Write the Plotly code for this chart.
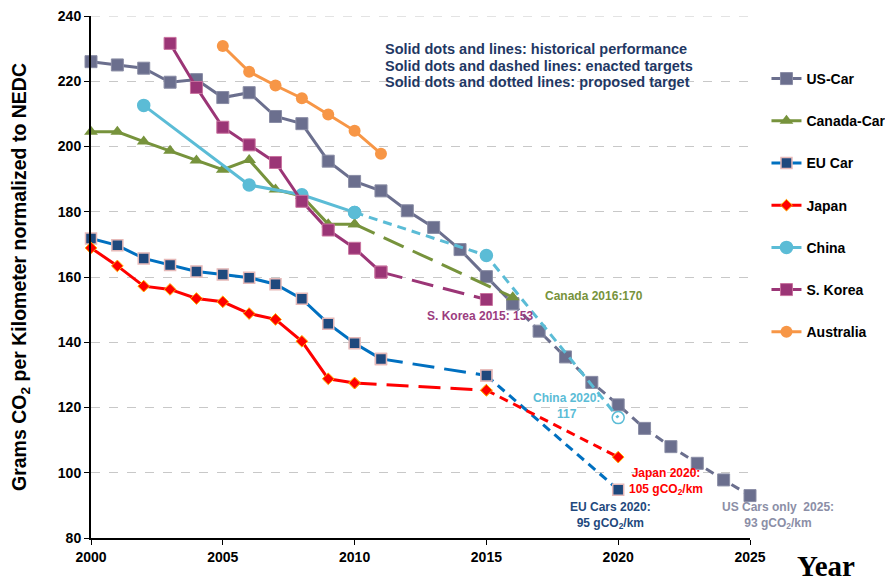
import plotly.graph_objects as go

# ---------- data ----------
us_years = list(range(2000, 2026))
us_co2 = [226, 225, 224, 219.7, 220.5, 215, 216.5, 209.2, 207, 195.5, 189.3, 186.4, 180.3,
          175.2, 168.4, 160.1, 151.8, 143.4, 135.5, 127.7, 120.8, 113.6, 108, 102.9, 97.8, 93]

canada_years = list(range(2000, 2011)) + [2016]
canada_co2 = [204.5, 204.5, 201.5, 198.7, 195.7, 192.9, 195.9, 186.8, 184.8, 176.2, 176.2, 153.8]

eu_years = list(range(2000, 2012)) + [2015, 2020]
eu_co2 = [171.8, 169.7, 165.7, 163.7, 161.7, 160.8, 159.8, 157.8, 153.3, 145.7, 139.7, 134.9, 129.8, 94.8]

japan_years = list(range(2000, 2011)) + [2015, 2020]
japan_co2 = [168.9, 163.4, 157.2, 156.2, 153.4, 152.4, 148.8, 147, 140.3, 128.8, 127.5, 125.3, 104.8]

china_years = [2002, 2006, 2008, 2010, 2015, 2020]
china_co2 = [212.6, 188.2, 185.2, 179.8, 166.6, 116.9]

korea_years = list(range(2003, 2012)) + [2015]
korea_co2 = [231.6, 218.1, 205.9, 200.5, 195.1, 183.2, 174.4, 168.8, 161.5, 153.1]

aus_years = list(range(2005, 2012))
aus_co2 = [230.8, 222.9, 218.7, 214.8, 209.8, 204.8, 197.8]

# ---------- styles ----------
FONT = "Arial, Liberation Sans, sans-serif"
LONG = "22px,10px"   # enacted targets
SHORT = "9px,6px"    # proposed targets

series = [
    dict(name="US-Car", x=us_years, y=us_co2, color="#6B6F8E", symbol="square", size=12,
         mline=dict(color="#8A8DA5", width=1),
         segs=[(2000, 2016, "solid"), (2016, 2025, SHORT)]),
    dict(name="Canada-Car", x=canada_years, y=canada_co2, color="#77933C", symbol="triangle-up", size=12,
         mline=dict(color="#77933C", width=0),
         segs=[(2000, 2010, "solid"), (2010, 2016, LONG)]),
    dict(name="EU Car", x=eu_years, y=eu_co2, color="#0070C0", mcolor="#1F497D", symbol="square", size=11,
         mline=dict(color="#E6B9B8", width=1.5),
         segs=[(2000, 2011, "solid"), (2011, 2015, LONG), (2015, 2020, SHORT)]),
    dict(name="Japan", x=japan_years, y=japan_co2, color="#FF0000", symbol="diamond", size=9,
         mline=dict(color="#FFB000", width=1),
         segs=[(2000, 2010, "solid"), (2010, 2015, LONG), (2015, 2020, SHORT)]),
    dict(name="China", x=china_years, y=china_co2, color="#5BBCD6", symbol="circle", size=12,
         mline=dict(color="#5BBCD6", width=1.5),
         segs=[(2002, 2010, "solid"), (2010, 2020, SHORT)]),
    dict(name="S. Korea", x=korea_years, y=korea_co2, color="#9B3576", symbol="square", size=12,
         mline=dict(color="#C9739F", width=1),
         segs=[(2003, 2011, "solid"), (2011, 2015, LONG)]),
    dict(name="Australia", x=aus_years, y=aus_co2, color="#F79646", symbol="circle", size=12,
         mline=dict(color="#F79646", width=0),
         segs=[(2005, 2011, "solid")]),
]

fig = go.Figure()

for s in series:
    for i, (a, b, dash) in enumerate(s["segs"]):
        xs = [x for x in s["x"] if a <= x <= b]
        ys = [y for x, y in zip(s["x"], s["y"]) if a <= x <= b]
        symbols = [s["symbol"]] * len(xs)
        if s["name"] == "China" and xs[-1] == 2020:
            symbols[-1] = "circle-open"
        fig.add_trace(go.Scatter(
            x=xs, y=ys, name=s["name"], mode="lines+markers",
            legendgroup=s["name"], showlegend=(i == 0),
            line=dict(color=s["color"], width=3, dash=dash),
            marker=dict(symbol=symbols, size=s["size"], color=s.get("mcolor", s["color"]),
                        line=s["mline"]),
            cliponaxis=False,
        ))

# ---------- annotations ----------
notes = [
    ("Canada 2016:170", 2019.1, 154.2, "#77933C"),
    ("S. Korea 2015: 153", 2014.75, 148.0, "#9B3D7F"),
    ("China 2020:<br>117", 2018.05, 120.6, "#5BBCD6"),
    ("Japan 2020:<br>105 gCO<sub>2</sub>/km", 2021.8, 97.4, "#FF0000"),
    ("EU Cars 2020:<br>95 gCO<sub>2</sub>/km", 2019.7, 86.8, "#1F497D"),
]
for text, x, y, c in notes:
    fig.add_annotation(x=x, y=y, text="<b>" + text + "</b>", showarrow=False,
                       font=dict(family=FONT, size=12, color=c), align="center")

# US label sits right of the x range, so place it in paper coords
fig.add_annotation(xref="paper", yref="paper", x=1.0425, y=0.044, xanchor="center", yanchor="middle",
                   text="<b>US Cars only  2025:<br>93 gCO<sub>2</sub>/km</b>", showarrow=False,
                   font=dict(family=FONT, size=12, color="#8B8EA6"), align="center")

key_lines = ["Solid dots and lines: historical performance",
             "Solid dots and dashed lines: enacted targets",
             "Solid dots and dotted lines: proposed target"]
for k, line in enumerate(key_lines):
    fig.add_annotation(xref="paper", yref="paper", x=0.443, y=(538 - 49 - 16.5 * k) / 522,
                       xanchor="left", yanchor="middle", align="left",
                       text="<b>" + line + "</b>", showarrow=False,
                       font=dict(family=FONT, size=14.5, color="#1F3864"))

fig.add_annotation(
    xref="paper", yref="paper", x=1.115, y=-0.054, xanchor="center", yanchor="middle",
    text="<b>Year</b>", showarrow=False,
    font=dict(family="Times New Roman, Liberation Serif, serif", size=29, color="black"))

# top gridline sits on the plot edge, plotly skips it there
fig.add_shape(type="line", xref="paper", x0=0, x1=1, yref="y", y0=240, y1=240, layer="below",
              line=dict(color="#C8C8C8", width=1, dash="dash"))

# page body has an 8px margin, so the figure is sized to fit inside the window
fig.update_layout(
    width=885, height=573,
    margin=dict(l=83, r=143, t=8, b=43, autoexpand=False),
    plot_bgcolor="white", paper_bgcolor="white",
    font=dict(family=FONT, color="black"),
    legend=dict(x=1.025, y=0.91, xanchor="left", yanchor="top", tracegroupgap=21,
                font=dict(family=FONT, size=14, color="black", weight="bold"),
                bgcolor="rgba(0,0,0,0)"),
)
fig.update_xaxes(range=[2000, 2025], dtick=5, tick0=2000, showgrid=False, zeroline=False,
                 showline=True, linecolor="black", linewidth=2, automargin=False,
                 ticks="outside", ticklen=5, tickcolor="black", ticklabeloverflow="allow",
                 tickfont=dict(family=FONT, size=14, color="black", weight="bold"))
fig.update_yaxes(range=[80, 240], dtick=20, tick0=80, showgrid=True, gridcolor="#C8C8C8",
                 griddash="dash", gridwidth=1, zeroline=False, showline=True, linecolor="black",
                 linewidth=2, ticks="outside", ticklen=5, tickcolor="black", automargin=False,
                 ticklabeloverflow="allow",
                 tickfont=dict(family=FONT, size=14, color="black", weight="bold"),
                 title=dict(text="<b>Grams CO<sub>2</sub> per Kilometer normalized to NEDC</b>",
                            font=dict(family=FONT, size=19.5, color="black"), standoff=34))

fig.write_html("out.html")
